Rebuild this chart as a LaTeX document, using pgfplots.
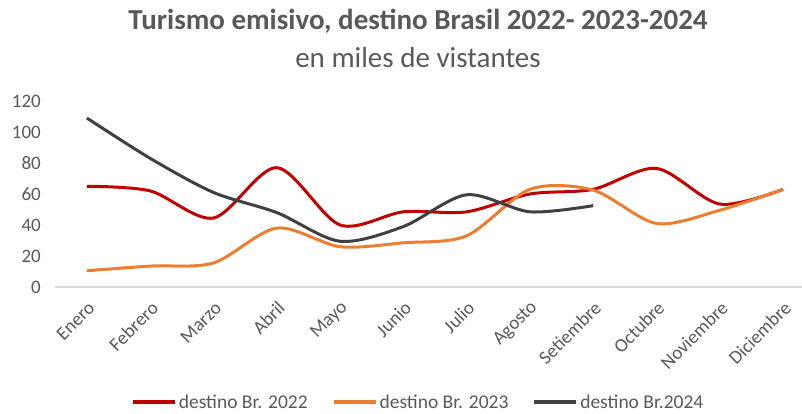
\documentclass[border=0pt]{standalone}
\usepackage{fontspec}
\setmainfont{Carlito}
\usepackage{pgfplots}
\pgfplotsset{compat=1.18}
\definecolor{c22}{HTML}{C00000}
\definecolor{c23}{HTML}{ED7D31}
\definecolor{c24}{HTML}{404040}
\definecolor{txt}{HTML}{595959}
\definecolor{axl}{HTML}{D9D9D9}
\begin{document}
\begin{tikzpicture}
\useasboundingbox (0,0) rectangle (802bp,414bp);
\node[text=txt, font=\fontsize{29bp}{32bp}\selectfont\bfseries] at (418bp,393bp) {Turismo emisivo, destino Brasil 2022- 2023-2024};
\node[text=txt, font=\fontsize{29bp}{32bp}\selectfont] at (418bp,356bp) {en miles de vistantes};
\begin{axis}[
  at={(55.3bp,127bp)}, anchor=south west,
  scale only axis, width=746.7bp, height=186bp,
  xmin=-0.5, xmax=11.3, ymin=0, ymax=120,
  ytick={0,20,...,120},
  xtick={0,...,11},
  xticklabels={Enero,Febrero,Marzo,Abril,Mayo,Junio,Julio,Agosto,Setiembre,Octubre,Noviembre,Diciembre},
  axis x line=bottom, axis y line=left,
  x axis line style={draw=axl, line width=1.2bp, -},
  y axis line style={draw=none},
  major tick length=0pt,
  tick label style={text=txt, font=\fontsize{19bp}{22bp}\selectfont},
  /pgf/number format/assume math mode=true,
  yticklabel style={xshift=-11bp},
  xticklabel style={rotate=45, anchor=east, xshift=-6bp, yshift=-16bp},
  clip=false,
  legend columns=3,
  legend style={at={(0.486,-0.62)}, anchor=center, draw=none, fill=none,
    font=\fontsize{19.5bp}{22bp}\selectfont, text=txt,
    /tikz/every even column/.append style={column sep=22bp}},
  legend image code/.code={\draw[#1, line width=3.8bp] (0bp,0bp) -- (42bp,0bp);},
  every axis plot/.append style={line width=3bp, smooth, tension=0.5, no markers},
]
\addplot[c22] coordinates {(0,65) (1,62) (2,44.5) (3,77) (4,40) (5,48.5) (6,48.5) (7,60) (8,63) (9,76.5) (10,53.5) (11,63)};
\addlegendentry{destino Br. 2022}
\addplot[c23] coordinates {(0,10.5) (1,13.5) (2,15.5) (3,38) (4,26) (5,28.5) (6,33) (7,63) (8,62.5) (9,41) (10,49.5) (11,63)};
\addlegendentry{destino Br. 2023}
\addplot[c24] coordinates {(0,109) (1,83) (2,61) (3,48) (4,29.5) (5,39) (6,59.5) (7,48.5) (8,52.5)};
\addlegendentry{destino Br.2024}
\end{axis}
\end{tikzpicture}
\end{document}
